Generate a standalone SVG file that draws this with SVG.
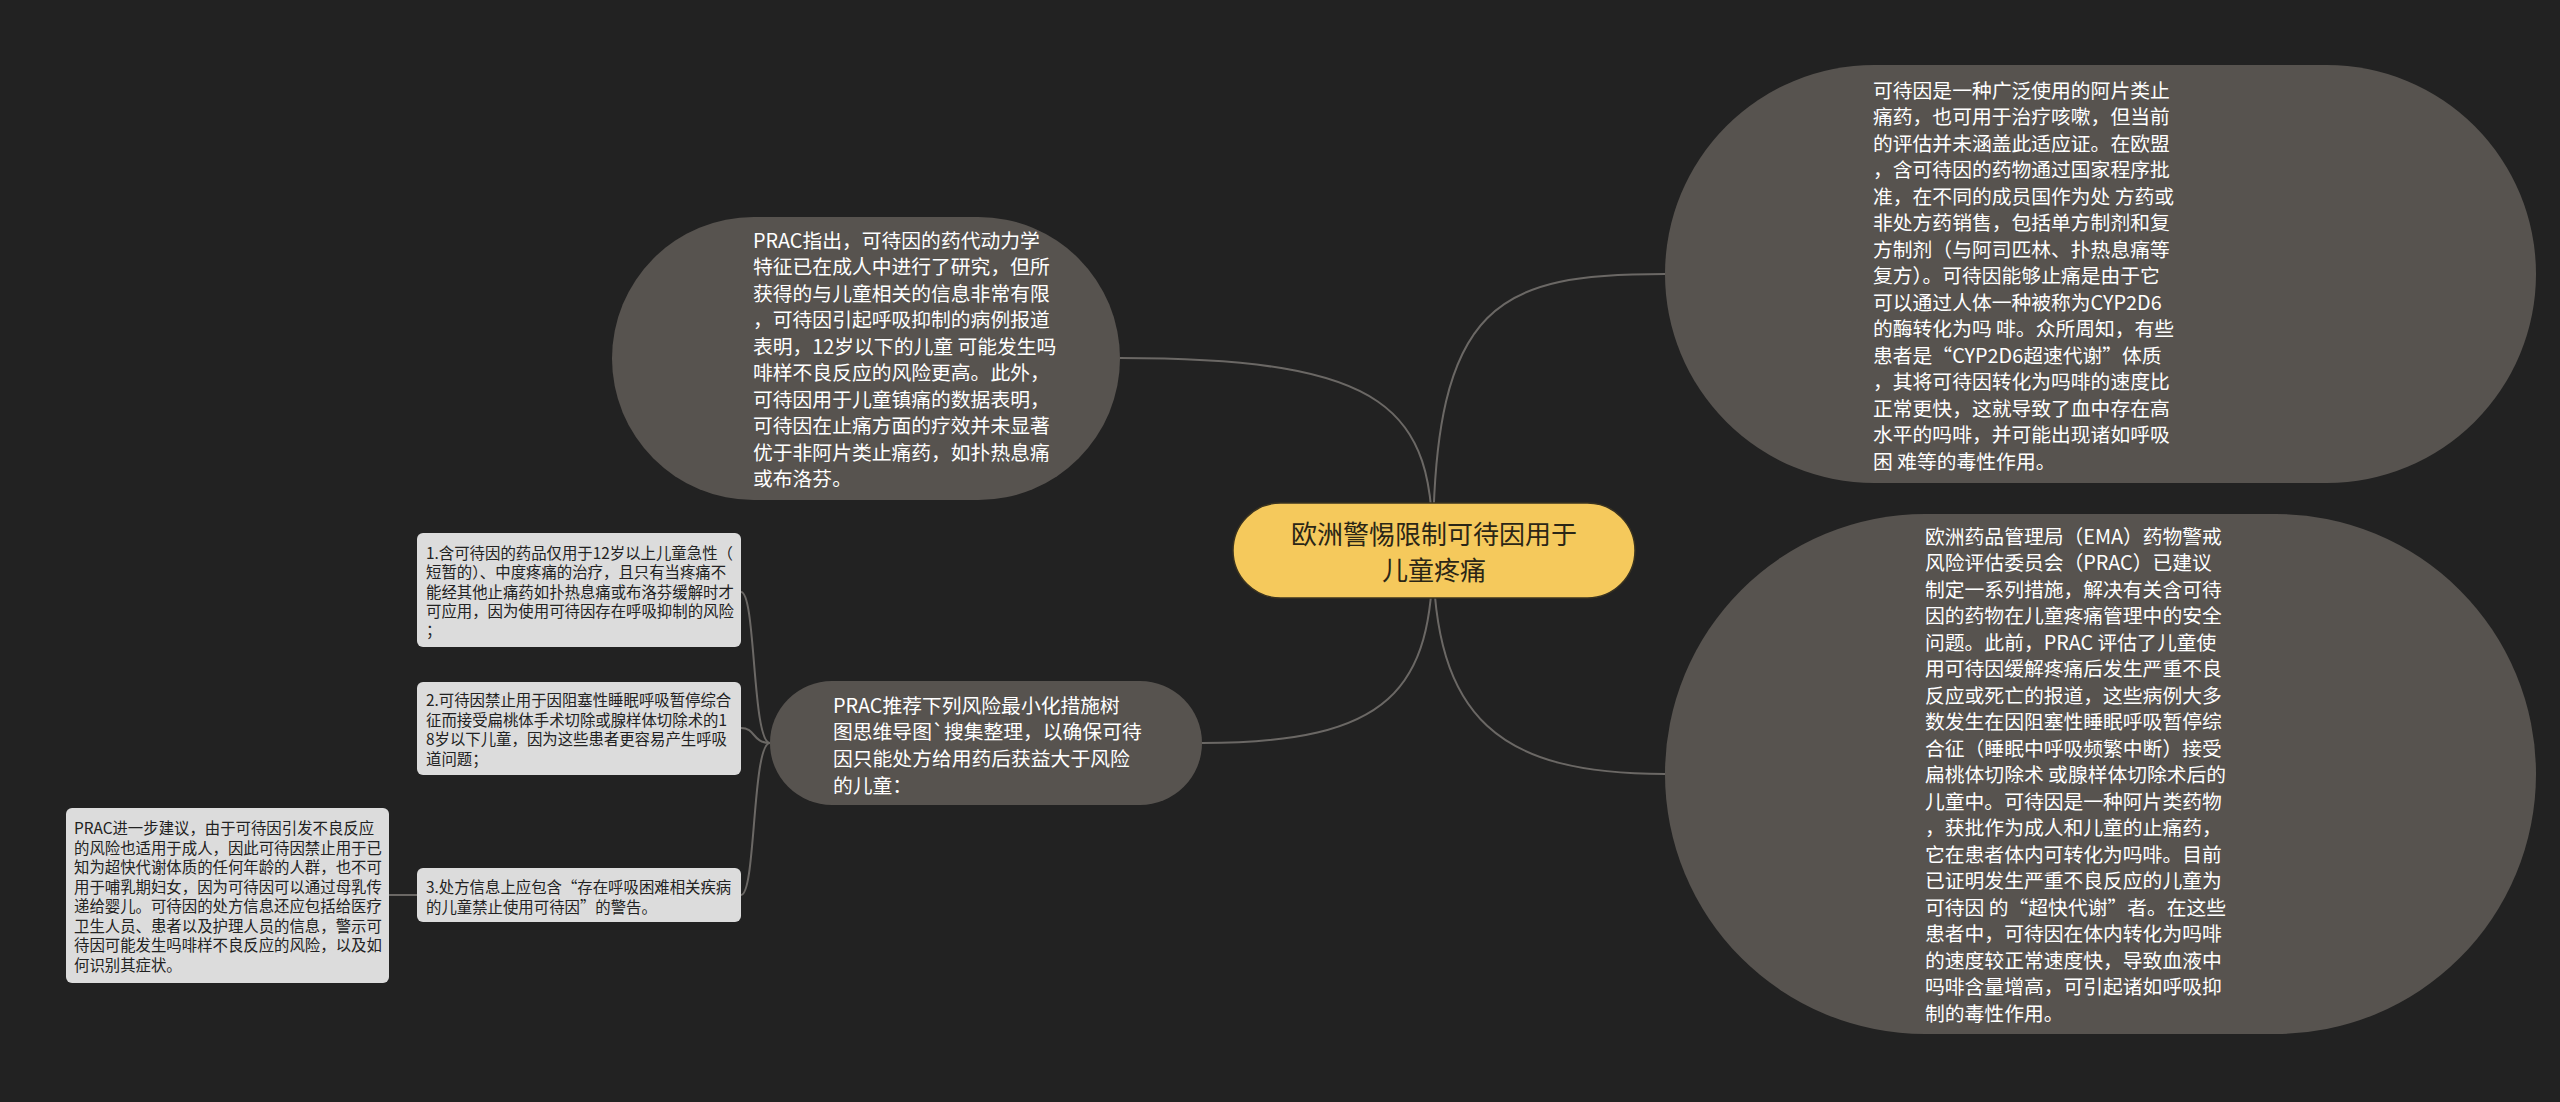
<svg xmlns="http://www.w3.org/2000/svg" width="2560" height="1102" viewBox="0 0 2560 1102">
<defs>
<style>
.bg{fill:#222222}
.conn{fill:none;stroke:#6b6865;stroke-width:2}
.big{fill:#57534f}
.box{fill:#dcdcdc}
.center{fill:#f5c95c;stroke:#3a3320;stroke-width:1.5}
.t{font-family:"Noto Sans CJK SC","Noto Sans",sans-serif}
.tw{fill:#ffffff;font-size:19.8px}
.tb{fill:#222222;font-size:15.4px}
.tc{fill:#2b2616;font-size:26px}
</style>
</defs>
<rect class="bg" x="0" y="0" width="2560" height="1102"/>
<g id="connectors">
<path class="conn" d="M 1433 550 C 1433 300, 1500 274, 1665 274"/>
<path class="conn" d="M 1433 550 C 1433 720, 1500 774, 1665 774"/>
<path class="conn" d="M 1433 550 C 1433 410, 1390 358, 1120 358"/>
<path class="conn" d="M 1433 550 C 1433 690, 1390 743, 1202 743"/>
<path class="conn" d="M 770 743 C 752 743, 756 592, 741 592"/>
<path class="conn" d="M 770 743 C 752 743, 756 728, 741 728"/>
<path class="conn" d="M 770 743 C 752 743, 756 895, 741 895"/>
<path class="conn" d="M 417 895 L 389 895"/>
</g>
<g id="central">
<rect class="center" x="1233" y="503" width="402" height="95" rx="47.5"/>
<text class="t tc" text-anchor="middle"><tspan x="1434" y="544">欧洲警惕限制可待因用于</tspan><tspan x="1434" y="580">儿童疼痛</tspan></text>
</g>
<g id="node-top-right">
<rect class="big" x="1665" y="65" width="871" height="418" rx="209"/>
<text class="t tw"><tspan x="1873" y="97.6">可待因是一种广泛使用的阿片类止</tspan><tspan x="1873" y="124.1">痛药，也可用于治疗咳嗽，但当前</tspan><tspan x="1873" y="150.6">的评估并未涵盖此适应证。在欧盟</tspan><tspan x="1873" y="177.1">，含可待因的药物通过国家程序批</tspan><tspan x="1873" y="203.6">准，在不同的成员国作为处 方药或</tspan><tspan x="1873" y="230.1">非处方药销售，包括单方制剂和复</tspan><tspan x="1873" y="256.6">方制剂（与阿司匹林、扑热息痛等</tspan><tspan x="1873" y="283.1">复方）。可待因能够止痛是由于它</tspan><tspan x="1873" y="309.6">可以通过人体一种被称为CYP2D6</tspan><tspan x="1873" y="336.1">的酶转化为吗 啡。众所周知，有些</tspan><tspan x="1873" y="362.6">患者是“CYP2D6超速代谢”体质</tspan><tspan x="1873" y="389.1">，其将可待因转化为吗啡的速度比</tspan><tspan x="1873" y="415.6">正常更快，这就导致了血中存在高</tspan><tspan x="1873" y="442.1">水平的吗啡，并可能出现诸如呼吸</tspan><tspan x="1873" y="468.6">困 难等的毒性作用。</tspan></text>
</g>
<g id="node-bottom-right">
<rect class="big" x="1665" y="514" width="871" height="520" rx="260"/>
<text class="t tw"><tspan x="1925" y="543.6">欧洲药品管理局（EMA）药物警戒</tspan><tspan x="1925" y="570.1">风险评估委员会（PRAC）已建议</tspan><tspan x="1925" y="596.6">制定一系列措施，解决有关含可待</tspan><tspan x="1925" y="623.1">因的药物在儿童疼痛管理中的安全</tspan><tspan x="1925" y="649.6">问题。此前，PRAC 评估了儿童使</tspan><tspan x="1925" y="676.1">用可待因缓解疼痛后发生严重不良</tspan><tspan x="1925" y="702.6">反应或死亡的报道，这些病例大多</tspan><tspan x="1925" y="729.1">数发生在因阻塞性睡眠呼吸暂停综</tspan><tspan x="1925" y="755.6">合征（睡眠中呼吸频繁中断）接受</tspan><tspan x="1925" y="782.1">扁桃体切除术 或腺样体切除术后的</tspan><tspan x="1925" y="808.6">儿童中。可待因是一种阿片类药物</tspan><tspan x="1925" y="835.1">，获批作为成人和儿童的止痛药，</tspan><tspan x="1925" y="861.6">它在患者体内可转化为吗啡。目前</tspan><tspan x="1925" y="888.1">已证明发生严重不良反应的儿童为</tspan><tspan x="1925" y="914.6">可待因 的“超快代谢”者。在这些</tspan><tspan x="1925" y="941.1">患者中，可待因在体内转化为吗啡</tspan><tspan x="1925" y="967.6">的速度较正常速度快，导致血液中</tspan><tspan x="1925" y="994.1">吗啡含量增高，可引起诸如呼吸抑</tspan><tspan x="1925" y="1020.6">制的毒性作用。</tspan></text>
</g>
<g id="node-top-left">
<rect class="big" x="612" y="217" width="508" height="283" rx="141.5"/>
<text class="t tw"><tspan x="753" y="247.6">PRAC指出，可待因的药代动力学</tspan><tspan x="753" y="274.1">特征已在成人中进行了研究，但所</tspan><tspan x="753" y="300.6">获得的与儿童相关的信息非常有限</tspan><tspan x="753" y="327.1">，可待因引起呼吸抑制的病例报道</tspan><tspan x="753" y="353.6">表明，12岁以下的儿童 可能发生吗</tspan><tspan x="753" y="380.1">啡样不良反应的风险更高。此外，</tspan><tspan x="753" y="406.6">可待因用于儿童镇痛的数据表明，</tspan><tspan x="753" y="433.1">可待因在止痛方面的疗效并未显著</tspan><tspan x="753" y="459.6">优于非阿片类止痛药，如扑热息痛</tspan><tspan x="753" y="486.1">或布洛芬。</tspan></text>
</g>
<g id="node-middle-left">
<rect class="big" x="770" y="681" width="432" height="124" rx="62"/>
<text class="t tw"><tspan x="833" y="712.6">PRAC推荐下列风险最小化措施树</tspan><tspan x="833" y="739.3">图思维导图`搜集整理，以确保可待</tspan><tspan x="833" y="766">因只能处方给用药后获益大于风险</tspan><tspan x="833" y="792.7">的儿童：</tspan></text>
</g>
<g id="box-1">
<rect class="box" x="417" y="533" width="324" height="114" rx="6"/>
<text class="t tb"><tspan x="426" y="559">1.含可待因的药品仅用于12岁以上儿童急性（</tspan><tspan x="426" y="578.3">短暂的）、中度疼痛的治疗，且只有当疼痛不</tspan><tspan x="426" y="597.6">能经其他止痛药如扑热息痛或布洛芬缓解时才</tspan><tspan x="426" y="616.9">可应用，因为使用可待因存在呼吸抑制的风险</tspan><tspan x="426" y="636.2">；</tspan></text>
</g>
<g id="box-2">
<rect class="box" x="417" y="682" width="324" height="93" rx="6"/>
<text class="t tb"><tspan x="426" y="706">2.可待因禁止用于因阻塞性睡眠呼吸暂停综合</tspan><tspan x="426" y="725.5">征而接受扁桃体手术切除或腺样体切除术的1</tspan><tspan x="426" y="745">8岁以下儿童，因为这些患者更容易产生呼吸</tspan><tspan x="426" y="764.5">道问题；</tspan></text>
</g>
<g id="box-3">
<rect class="box" x="417" y="868" width="324" height="54" rx="6"/>
<text class="t tb"><tspan x="426" y="893">3.处方信息上应包含“存在呼吸困难相关疾病</tspan><tspan x="426" y="912.5">的儿童禁止使用可待因”的警告。</tspan></text>
</g>
<g id="box-4">
<rect class="box" x="66" y="808" width="323" height="175" rx="6"/>
<text class="t tb"><tspan x="74" y="834">PRAC进一步建议，由于可待因引发不良反应</tspan><tspan x="74" y="853.5">的风险也适用于成人，因此可待因禁止用于已</tspan><tspan x="74" y="873">知为超快代谢体质的任何年龄的人群，也不可</tspan><tspan x="74" y="892.5">用于哺乳期妇女，因为可待因可以通过母乳传</tspan><tspan x="74" y="912">递给婴儿。可待因的处方信息还应包括给医疗</tspan><tspan x="74" y="931.5">卫生人员、患者以及护理人员的信息，警示可</tspan><tspan x="74" y="951">待因可能发生吗啡样不良反应的风险，以及如</tspan><tspan x="74" y="970.5">何识别其症状。</tspan></text>
</g>
</svg>
